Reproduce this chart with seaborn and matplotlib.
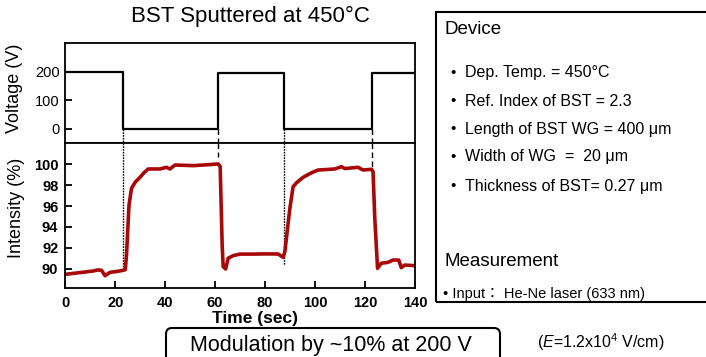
import numpy as np
import pandas as pd
import matplotlib
matplotlib.use("Agg")
import matplotlib.pyplot as plt
import seaborn as sns
from matplotlib.patches import Rectangle, FancyBboxPatch
from matplotlib.transforms import IdentityTransform

# ---------------- data ----------------
volt_time = [0, 23, 23, 61.2, 61.2, 87.4, 87.4, 122.6, 122.6, 140]
volt_vals = [201, 201, 0, 0, 197, 197, 1, 1, 197, 197]

int_time = [0, 5, 11.2, 13, 14.5, 15.9, 17.9, 21, 23.2, 24.0, 24.5, 25.5, 26.5, 28,
            29.9, 31.5, 33.2, 37.9, 40.5, 41.9, 43.9, 51.2, 56, 61.2, 62.0, 62.8,
            63.2, 64.2, 65.2, 67.2, 69.9, 75, 80, 85.2, 87.2, 87.9, 89.9, 91.2,
            92.6, 95.2, 98.6, 101.2, 104, 107.9, 110.6, 111.9, 117.2, 119.2, 122.6,
            123.2, 123.9, 125.0, 126.5, 129.2, 131.2, 133.5, 134.5, 135.9, 139.9]
int_vals = [89.46, 89.6, 89.78, 89.88, 89.85, 89.33, 89.65, 89.75, 89.85, 89.9,
            91.3, 96.1, 97.7, 98.3, 98.76, 99.2, 99.56, 99.56, 99.72, 99.56, 99.94,
            99.88, 99.95, 100.04, 99.8, 92.27, 90.2, 89.97, 91.0, 91.25, 91.4, 91.4,
            91.42, 91.41, 91.09, 91.63, 95.79, 97.86, 98.25, 98.76, 99.2, 99.46,
            99.5, 99.56, 99.78, 99.6, 99.72, 99.46, 99.53, 99.3, 94.83, 90.04, 90.52,
            90.61, 90.83, 90.83, 90.1, 90.35, 90.29]

switch_times = [23, 61.2, 87.4, 122.6]
switch_ends = [90.06, 100.7, 90.35, 99.7]
switch_styles = [":", "--", ":", "--"]

volt_ticks = [0, 100, 200]
int_ticks = [90, 92, 94, 96, 98, 100]
time_ticks = [0, 20, 40, 60, 80, 100, 120, 140]

title = "BST Sputtered at 450\u00b0C"
device_items = ["Dep. Temp. = 450\u00b0C", "Ref. Index of BST = 2.3",
                "Length of BST WG = 400 \u03bcm", "Width of WG  =  20 \u03bcm",
                "Thickness of BST= 0.27 \u03bcm"]

# ---------------- style ----------------
sns.set_style("ticks")
plt.rcParams["font.family"] = ["Liberation Sans", "DejaVu Sans"]
plt.rcParams["mathtext.fontset"] = "custom"
plt.rcParams["mathtext.rm"] = "Liberation Sans"
plt.rcParams["mathtext.it"] = "Liberation Sans:italic"
plt.rcParams["text.color"] = "black"
plt.rcParams["axes.labelcolor"] = "black"
plt.rcParams["xtick.color"] = "black"
plt.rcParams["ytick.color"] = "black"

W, H = 706, 357
fig = plt.figure(figsize=(W / 100, H / 100), dpi=100)

def ax_rect(l, t, r, b):
    return [l / W, 1 - b / H, (r - l) / W, (b - t) / H]

ax1 = fig.add_axes(ax_rect(65.3, 43, 415, 143))
ax2 = fig.add_axes(ax_rect(65.3, 143, 415, 288))

vdf = pd.DataFrame({"t": volt_time, "v": volt_vals})
idf = pd.DataFrame({"t": int_time, "i": int_vals})

sns.lineplot(data=vdf, x="t", y="v", ax=ax1, color="black", lw=1.6,
             sort=False, estimator=None)
sns.lineplot(data=idf, x="t", y="i", ax=ax2, color="#A80808", lw=2.6,
             sort=False, estimator=None, solid_joinstyle="round", solid_capstyle="round")

ax1.set_xlim(0, 140)
ax1.set_ylim(-50, 302)
ax2.set_xlim(0, 140)
ax2.set_ylim(88.15, 102.05)

for t, end, ls in zip(switch_times, switch_ends, switch_styles):
    dash = (0, (1.2, 0.8)) if ls == ":" else (0, (4, 2.5))
    ax1.plot([t, t], [0, -50], color="black", lw=1.0, linestyle=dash)
    ax2.plot([t, t], [102.05, end], color="black", lw=1.0, linestyle=dash, zorder=1)

for ax in (ax1, ax2):
    for s in ax.spines.values():
        s.set_linewidth(1.3)
        s.set_color("black")
    ax.tick_params(direction="in", length=5, width=1.3, colors="black")

ax1.set_xticks([])
ax1.set_yticks(volt_ticks)
ax1.set_yticklabels([str(v) for v in volt_ticks], fontsize=10.5)
ax1.tick_params(axis="y", pad=4)
ax1.set_xlabel("")
ax1.set_ylabel("Voltage (V)", fontsize=13)
ax1.yaxis.set_label_coords((23 - 65.3) / 350, 0.55)

ax2.set_yticks(int_ticks)
ax2.set_yticklabels([str(v) for v in int_ticks], fontsize=10.5, fontweight="bold")
ax2.set_xticks(time_ticks)
ax2.set_xticklabels([str(v) for v in time_ticks], fontsize=10.5, fontweight="bold")
ax2.tick_params(axis="y", pad=5)
ax2.tick_params(axis="x", pad=6)
ax2.set_ylabel("Intensity (%)", fontsize=13)
ax2.yaxis.set_label_coords((25 - 65.3) / 350, 0.55)
ax2.set_xlabel("Time (sec)", fontsize=12.5, fontweight="bold")
ax2.xaxis.set_label_coords((255 - 65.3) / 350, -(311 - 288) / 145)

fig.text(250 / W, 1 - 16 / H, title, ha="center", va="center", fontsize=16)

# right info box
fig.add_artist(Rectangle((436 / W, 1 - 302 / H), (712 - 436) / W, (302 - 12) / H,
                         transform=fig.transFigure, fill=False, lw=1.5,
                         edgecolor="black", clip_on=False))
fig.text(445 / W, 1 - 30 / H, "Device", ha="left", va="center", fontsize=13.5)
ys = [73, 101, 129, 157, 186]
for y, s in zip(ys, device_items):
    fig.text(450 / W, 1 - y / H, "\u2022", ha="left", va="center", fontsize=11)
    fig.text(465 / W, 1 - y / H, s, ha="left", va="center", fontsize=11.5)
fig.text(445 / W, 1 - 261 / H, "Measurement", ha="left", va="center", fontsize=13.5)
fig.text(443 / W, 1 - 294 / H, "\u2022 Input\uff1a He-Ne laser (633 nm)",
         ha="left", va="center", fontsize=10.5,
         family=["Liberation Sans", "Noto Sans CJK JP", "DejaVu Sans"])

# bottom modulation box
fig.add_artist(FancyBboxPatch((166, -20), 500 - 166, (357 - 328) + 20,
                              boxstyle="round,pad=0,rounding_size=6",
                              transform=IdentityTransform(), fill=False,
                              lw=1.5, edgecolor="black", clip_on=False))
fig.text(331 / W, 1 - 345 / H, "Modulation by ~10% at 200 V", ha="center",
         va="center", fontsize=15.5)
fig.text(601 / W, 1 - 342 / H, "($\\mathit{E}$=1.2x10$^4$ V/cm)", ha="center",
         va="center", fontsize=11.5)

fig.savefig("out.png", dpi=100)
